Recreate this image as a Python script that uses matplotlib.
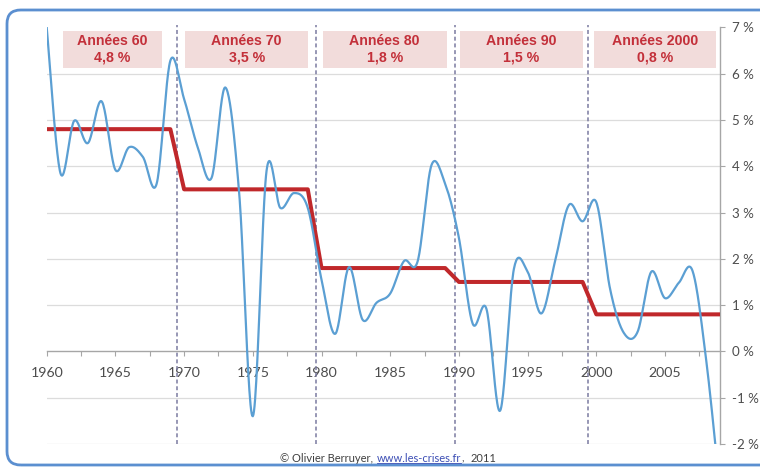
import numpy as np
import matplotlib
matplotlib.use("Agg")
import matplotlib.pyplot as plt
from matplotlib.patches import FancyBboxPatch, Rectangle
from matplotlib.ticker import MultipleLocator
from matplotlib.lines import Line2D

# Annual real GDP growth, France (%)
years = list(range(1960, 2010))
growth = [
    7.0, 3.85, 4.98, 4.5, 5.40, 3.92, 4.41, 4.2, 3.62, 6.28,      # 1960s
    5.45, 4.4, 3.75, 5.70, 3.45, -1.40, 3.90, 3.10, 3.42, 3.1,    # 1970s
    1.55, 0.38, 1.82, 0.68, 1.05, 1.25, 1.95, 1.95, 4.02, 3.62,   # 1980s
    2.45, 0.6, 0.92, -1.28, 1.78, 1.72, 0.82, 1.95, 3.16, 2.81,   # 1990s
    3.22, 1.35, 0.40, 0.42, 1.72, 1.15, 1.48, 1.74, -0.2, -3.0,   # 2000s
]

# Decade averages
decade_names = ["Années 60", "Années 70", "Années 80", "Années 90", "Années 2000"]
decade_avg = [4.8, 3.5, 1.8, 1.5, 0.8]
decade_avg_labels = ["4,8 %", "3,5 %", "1,8 %", "1,5 %", "0,8 %"]

y_ticks = [-2, -1, 0, 1, 2, 3, 4, 5, 6, 7]
y_tick_labels = ["-2 %", "-1 %", "0 %", "1 %", "2 %", "3 %", "4 %", "5 %", "6 %", "7 %"]
x_tick_years = [1960, 1965, 1970, 1975, 1980, 1985, 1990, 1995, 2000, 2005]

BLUE = "#5b9fd3"
RED = "#c0282b"
TEXT_RED = "#c3303a"
BOX_FILL = "#f2dcdb"
GREY_TXT = "#4d4d4d"
AXIS_GREY = "#a6a6a6"


def smooth_curve(x, y, steps=24):
    """Cubic Bezier smoothing through every point (Catmull-Rom style)."""
    x = np.asarray(x, float)
    y = np.asarray(y, float)
    px = np.concatenate([[x[0]], x, [x[-1]]])
    py = np.concatenate([[y[0]], y, [y[-1]]])
    t = np.linspace(0, 1, steps, endpoint=False)
    xs, ys = [], []
    for i in range(len(x) - 1):
        p0 = np.array([px[i], py[i]])
        p1 = np.array([px[i + 1], py[i + 1]])
        p2 = np.array([px[i + 2], py[i + 2]])
        p3 = np.array([px[i + 3], py[i + 3]])
        c1 = p1 + (p2 - p0) / 6.0
        c2 = p2 - (p3 - p1) / 6.0
        b = ((1 - t) ** 3)[:, None] * p1 + (3 * (1 - t) ** 2 * t)[:, None] * c1 \
            + (3 * (1 - t) * t ** 2)[:, None] * c2 + (t ** 3)[:, None] * p2
        xs.append(b[:, 0])
        ys.append(b[:, 1])
    xs.append([x[-1]])
    ys.append([y[-1]])
    return np.concatenate(xs), np.concatenate(ys)


W, H = 760, 468
fig = plt.figure(figsize=(W / 100, H / 100), dpi=100)
fig.patch.set_facecolor("white")

# Rounded chart frame
frame = FancyBboxPatch((7 / W, 1 - 465 / H), (790 - 7) / W, (465 - 10) / H,
                       boxstyle="round,pad=0,rounding_size=0.018",
                       transform=fig.transFigure, facecolor="none",
                       edgecolor="#5b8fd0", linewidth=2.0, zorder=-5,
                       mutation_aspect=W / H)
fig.patches.append(frame)

ax = fig.add_axes([46.7 / W, 1 - 444 / H, 673.3 / W, (444 - 27.3) / H])
ax.set_facecolor("none")
ax.set_xlim(1960, 2009)
ax.set_ylim(-2, 7)

# Horizontal gridlines
for v in y_ticks:
    if v not in (0, 7):
        ax.axhline(v, color="#dcdcdc", lw=0.9, zorder=1)

# Decade separators
for sep in [1969.5, 1979.6, 1989.7, 1999.4]:
    ax.plot([sep, sep], [-2, 7.06], color="#7b7ba0", lw=1.1,
            linestyle=(0, (2.6, 1.8)), zorder=2, clip_on=False)

# Decade average step line
avg_series = [decade_avg[(yr - 1960) // 10] for yr in years]
ax.plot(years, avg_series, color=RED, lw=2.9, zorder=3,
        solid_joinstyle="round", solid_capstyle="butt")

# Annual growth, smoothed
cx, cy_ = smooth_curve(years, growth)
ax.plot(cx, cy_, color=BLUE, lw=1.6, zorder=4)

# Decade label boxes
box_spans = [(1961.2, 1968.4), (1970.1, 1979.0), (1980.1, 1989.1),
             (1990.1, 1999.0), (1999.8, 2008.7)]
for (x0, x1), name, lab in zip(box_spans, decade_names, decade_avg_labels):
    ax.add_patch(Rectangle((x0, 6.12), x1 - x0, 0.81, facecolor=BOX_FILL,
                           edgecolor="none", zorder=5))
    xc = (x0 + x1) / 2
    ax.text(xc, 6.70, name, ha="center", va="center", color=TEXT_RED,
            fontsize=10.2, fontweight="bold", family="Liberation Sans", zorder=6)
    ax.text(xc, 6.34, lab, ha="center", va="center", color=TEXT_RED,
            fontsize=10.2, fontweight="bold", family="Liberation Sans", zorder=6)

# Axes styling
for side in ("top", "left"):
    ax.spines[side].set_visible(False)
ax.spines["bottom"].set_position(("data", 0))
ax.spines["bottom"].set_color(AXIS_GREY)
ax.spines["bottom"].set_linewidth(1.0)
ax.spines["right"].set_color(AXIS_GREY)
ax.spines["right"].set_linewidth(1.0)

ax.yaxis.tick_right()
ax.set_yticks(y_ticks)
ax.set_yticklabels(y_tick_labels)
ax.tick_params(axis="y", direction="out", length=3.5, width=0.8,
               color=AXIS_GREY, labelcolor=GREY_TXT, labelsize=9.6, pad=5.5)

ax.set_xticks(x_tick_years)
ax.set_xticklabels([str(y) for y in x_tick_years])
ax.xaxis.set_minor_locator(MultipleLocator(2.5))
ax.tick_params(axis="x", which="both", direction="out", length=3.5, width=0.8,
               color=AXIS_GREY)
ax.tick_params(axis="x", which="major", labelcolor=GREY_TXT, labelsize=10.2, pad=8)

for lbl in ax.get_xticklabels() + ax.get_yticklabels():
    lbl.set_family("Lato")

# Credit line with link
fig.canvas.draw()
renderer = fig.canvas.get_renderer()
fs = 8
fam = "Lato"
base_px = 461.5
base_y = 1 - base_px / H
parts = [("© Olivier Berruyer,", "#404040", False),
         ("www.les-crises.fr", "#3d4fb5", True),
         (",", "#404040", False),
         ("2011", "#404040", False)]
gaps = [4, 0, 7, 0]
tmp = [fig.text(0, base_y, p[0], fontsize=fs, family=fam) for p in parts]
widths = [t.get_window_extent(renderer).width for t in tmp]
for t in tmp:
    t.remove()
total = sum(widths) + sum(gaps)
x = 388 - total / 2
for (txt, col, link), w, g in zip(parts, widths, gaps):
    fig.text(x / W, base_y, txt, fontsize=fs, family=fam, color=col,
             ha="left", va="baseline")
    if link:
        uy = 1 - (base_px + 1.2) / H
        fig.add_artist(Line2D([x / W, (x + w) / W], [uy, uy],
                              transform=fig.transFigure, color=col, lw=0.6))
    x += w + g

fig.savefig("out.png", dpi=100)
